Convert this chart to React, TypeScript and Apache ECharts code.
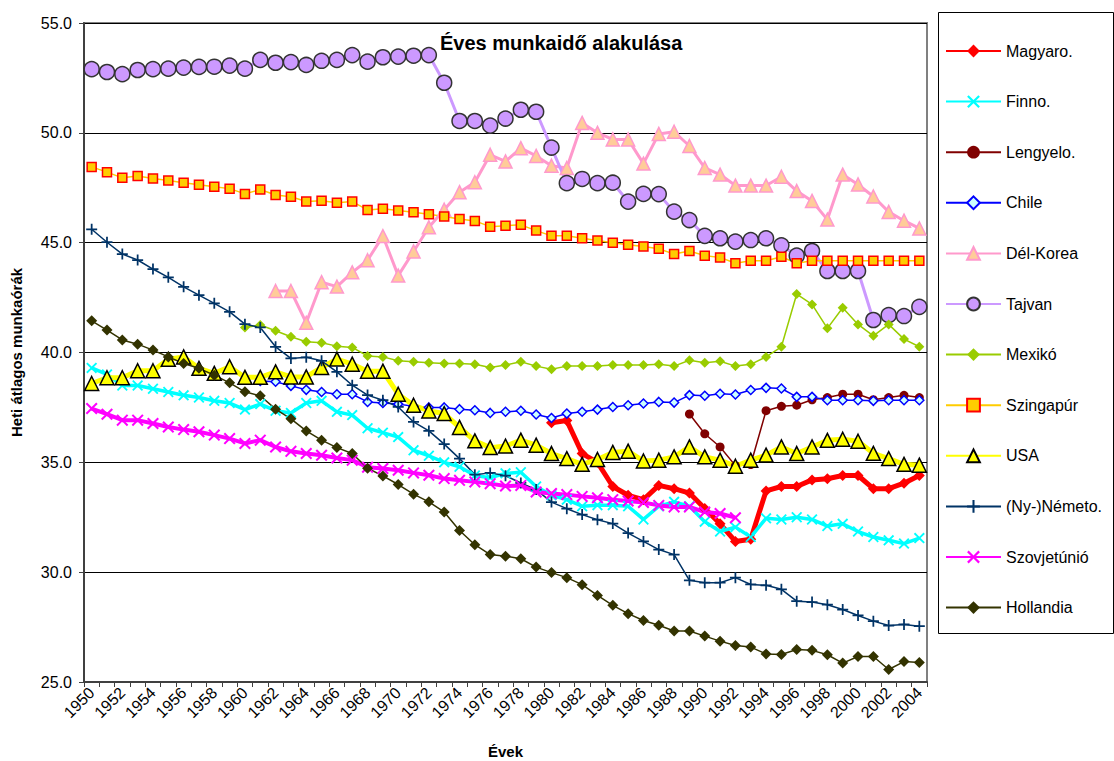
import React, { useEffect, useRef } from "react";
import * as echarts from "echarts";

const years = [
  "1950","1951","1952","1953","1954","1955","1956","1957","1958","1959",
  "1960","1961","1962","1963","1964","1965","1966","1967","1968","1969",
  "1970","1971","1972","1973","1974","1975","1976","1977","1978","1979",
  "1980","1981","1982","1983","1984","1985","1986","1987","1988","1989",
  "1990","1991","1992","1993","1994","1995","1996","1997","1998","1999",
  "2000","2001","2002","2003","2004",
];

const N = null;

const magyaro = [
  N,N,N,N,N,N,N,N,N,N,
  N,N,N,N,N,N,N,N,N,N,
  N,N,N,N,N,N,N,N,N,N,
  36.8,36.9,35.4,35.0,33.9,33.5,33.3,33.95,33.8,33.6,
  32.9,32.2,31.4,31.5,33.7,33.9,33.9,34.2,34.25,34.4,
  34.4,33.8,33.8,34.05,34.4,
];

const finno = [
  39.3,39.0,38.5,38.5,38.35,38.2,38.05,37.95,37.8,37.7,
  37.4,37.65,37.35,37.25,37.7,37.8,37.3,37.15,36.55,36.35,
  36.15,35.55,35.3,35.0,34.8,34.4,34.3,34.5,34.55,33.9,
  33.5,33.3,33.0,33.05,33.05,33.0,32.4,33.0,33.2,33.0,
  32.3,31.85,32.05,31.6,32.45,32.4,32.5,32.4,32.1,32.2,
  31.85,31.6,31.45,31.3,31.55,
];

const lengyelo = [
  N,N,N,N,N,N,N,N,N,N,
  N,N,N,N,N,N,N,N,N,N,
  N,N,N,N,N,N,N,N,N,N,
  N,N,N,N,N,N,N,N,N,37.2,
  36.3,35.7,34.85,34.9,37.35,37.55,37.6,37.85,37.95,38.1,
  38.1,37.85,37.95,38.05,37.95,
];

const chile = [
  N,N,N,N,N,N,N,N,N,N,
  N,38.7,38.67,38.48,38.3,38.2,38.1,38.1,37.75,37.7,
  37.65,37.55,37.5,37.5,37.42,37.37,37.25,37.3,37.35,37.18,
  37.02,37.22,37.3,37.4,37.52,37.6,37.68,37.75,37.72,38.06,
  38.03,38.12,38.09,38.29,38.39,38.36,37.98,37.98,37.83,37.83,
  37.83,37.8,37.83,37.83,37.83,
];

const delKorea = [
  N,N,N,N,N,N,N,N,N,N,
  N,N,42.8,42.8,41.35,43.2,43.0,43.65,44.2,45.3,
  43.5,44.6,45.7,46.5,47.3,47.75,49.0,48.7,49.3,48.95,
  48.5,48.4,50.45,50.0,49.7,49.7,48.6,49.95,50.05,49.4,
  48.4,48.1,47.6,47.6,47.6,48.0,47.35,46.9,46.05,48.1,
  47.65,47.1,46.4,46.0,45.65,
];

const tajvan = [
  52.9,52.77,52.67,52.86,52.9,52.92,52.97,53.0,53.01,53.06,
  52.92,53.32,53.19,53.22,53.09,53.28,53.32,53.54,53.24,53.44,
  53.47,53.51,53.54,52.28,50.54,50.54,50.33,50.65,51.05,50.96,
  49.33,47.71,47.9,47.71,47.73,46.87,47.22,47.21,46.41,46.03,
  45.31,45.2,45.05,45.12,45.2,44.88,44.41,44.62,43.71,43.71,
  43.71,41.48,41.7,41.66,42.08,
];

const mexiko = [
  N,N,N,N,N,N,N,N,N,N,
  41.14,41.25,40.99,40.72,40.49,40.44,40.29,40.23,39.84,39.8,
  39.62,39.58,39.53,39.5,39.5,39.47,39.32,39.43,39.58,39.38,
  39.24,39.38,39.38,39.38,39.43,39.43,39.43,39.46,39.38,39.65,
  39.53,39.6,39.38,39.46,39.8,40.26,42.66,42.19,41.1,42.04,
  41.28,40.76,41.28,40.61,40.26,
];

const szingapur = [
  48.45,48.21,47.95,48.03,47.92,47.83,47.73,47.64,47.55,47.46,
  47.22,47.42,47.17,47.09,46.87,46.91,46.82,46.87,46.49,46.54,
  46.46,46.39,46.29,46.19,46.08,45.99,45.73,45.77,45.81,45.55,
  45.31,45.31,45.2,45.1,45.0,44.91,44.83,44.72,44.48,44.62,
  44.41,44.33,44.06,44.18,44.18,44.36,44.06,44.18,44.18,44.18,
  44.18,44.18,44.18,44.18,44.18,
];

const usa = [
  38.59,38.85,38.85,39.17,39.17,39.69,39.8,39.28,39.05,39.35,
  38.87,38.87,39.12,38.89,38.89,39.32,39.7,39.47,39.15,39.15,
  38.1,37.6,37.34,37.22,36.59,35.98,35.67,35.74,36.01,35.78,
  35.4,35.17,34.91,35.13,35.45,35.51,35.06,35.1,35.25,35.7,
  35.25,35.1,34.82,35.1,35.33,35.7,35.4,35.7,36.0,36.05,
  35.96,35.41,35.17,34.91,34.87,
];

const nemeto = [
  45.61,45.02,44.48,44.21,43.8,43.42,42.99,42.61,42.24,41.85,
  41.29,41.14,40.26,39.73,39.78,39.62,39.12,38.51,38.06,37.83,
  37.52,36.84,36.43,35.83,35.17,34.44,34.52,34.39,34.06,33.76,
  33.19,32.89,32.62,32.39,32.21,31.78,31.4,31.03,30.8,29.63,
  29.52,29.52,29.75,29.44,29.4,29.22,28.68,28.64,28.52,28.3,
  28.03,27.77,27.57,27.62,27.54,
];

const szovjet = [
  37.45,37.19,36.92,36.92,36.77,36.61,36.49,36.39,36.24,36.08,
  35.86,36.01,35.7,35.5,35.4,35.32,35.2,35.1,34.78,34.72,
  34.64,34.52,34.41,34.26,34.18,34.11,34.03,33.92,33.95,33.65,
  33.58,33.53,33.45,33.39,33.3,33.24,33.17,33.04,32.97,32.97,
  32.74,32.67,32.48,N,N,N,N,N,N,N,
  N,N,N,N,N,
];

const hollandia = [
  41.44,41.02,40.57,40.38,40.11,39.8,39.5,39.28,38.97,38.62,
  38.21,38.03,37.42,36.98,36.43,36.01,35.67,35.4,34.73,34.38,
  33.99,33.55,33.2,32.74,31.9,31.25,30.8,30.73,30.61,30.23,
  29.98,29.75,29.43,28.94,28.49,28.11,27.8,27.58,27.32,27.32,
  27.09,26.86,26.66,26.59,26.28,26.25,26.48,26.44,26.24,25.86,
  26.16,26.16,25.57,25.93,25.89,
];

const FONT = 'Arial, "Liberation Sans", sans-serif';
const XSYM = "path://M0,1.2L1.2,0L5,3.8L8.8,0L10,1.2L6.2,5L10,8.8L8.8,10L5,6.2L1.2,10L0,8.8L3.8,5Z";
const PLUS = "path://M4.2,0H5.8V4.2H10V5.8H5.8V10H4.2V5.8H0V4.2H4.2Z";

function mk(
  name: string,
  data: (number | null)[],
  lineColor: string,
  lineWidth: number,
  symbol: string,
  size: number,
  fill: string,
  border: string,
  borderWidth: number
) {
  return {
    name,
    type: "line",
    data,
    symbol,
    symbolSize: size,
    showAllSymbol: true,
    lineStyle: { color: lineColor, width: lineWidth },
    itemStyle: { color: fill, borderColor: border, borderWidth },
    emphasis: { disabled: true },
  };
}

export default function App() {
  const ref = useRef<HTMLDivElement>(null);
  useEffect(() => {
    document.body.style.margin = "0";
    const chart = echarts.init(ref.current!, null, { renderer: "svg" });
    const series = [
      mk("Magyaro.", magyaro, "#FF0000", 5, "diamond", 11, "#FF0000", "#FF0000", 0),
      mk("Finno.", finno, "#00FFFF", 3.5, XSYM, 11, "#00FFFF", "#00FFFF", 0),
      mk("Lengyelo.", lengyelo, "#800000", 1.5, "circle", 9, "#800000", "#800000", 0),
      mk("Chile", chile, "#0000FF", 1.5, "diamond", 9, "#CCFFFF", "#0000FF", 1.5),
      mk("Dél-Korea", delKorea, "#FF99CC", 3, "triangle", 13, "#FFCC99", "#FF99CC", 1.5),
      mk("Tajvan", tajvan, "#CC99FF", 3, "circle", 15, "#CC99FF", "#333333", 1.5),
      mk("Mexikó", mexiko, "#99CC00", 1.5, "diamond", 10, "#99CC00", "#99CC00", 0),
      mk("Szingapúr", szingapur, "#FFCC00", 1.5, "rect", 9, "#FFCC00", "#FF0000", 1.5),
      mk("USA", usa, "#FFFF00", 5, "triangle", 14, "#FFFF00", "#000000", 1.5),
      mk("(Ny-)Németo.", nemeto, "#003366", 1.5, PLUS, 11, "#003366", "#003366", 0),
      mk("Szovjetúnió", szovjet, "#FF00FF", 4, XSYM, 12, "#FF00FF", "#FF00FF", 0),
      mk("Hollandia", hollandia, "#333300", 1.5, "diamond", 11, "#333300", "#333300", 0),
    ];
    chart.setOption({
      animation: false,
      backgroundColor: "#ffffff",
      textStyle: { fontFamily: FONT },
      title: {
        text: "Éves munkaidő alakulása",
        left: 440,
        top: 33,
        padding: 0,
        textStyle: { fontSize: 20, fontWeight: "bold", color: "#000", fontFamily: FONT },
      },
      grid: {
        left: 84,
        right: 187,
        top: 23,
        bottom: 79,
        containLabel: false,
        outerBoundsMode: "none",
        show: true,
        borderColor: "#808080",
        borderWidth: 2,
        backgroundColor: "transparent",
      },
      legend: {
        orient: "vertical",
        left: 945,
        top: 43,
        padding: 0,
        itemGap: 34.6,
        itemWidth: 55,
        itemHeight: 16,
        textStyle: { fontSize: 16, color: "#000", fontFamily: FONT },
        data: series.map((s) => s.name),
      },
      graphic: [
        {
          type: "rect",
          left: 938,
          top: 12,
          shape: { width: 175, height: 621 },
          style: { fill: "transparent", stroke: "#000", lineWidth: 1 },
          z: 0,
        },
      ],
      xAxis: {
        type: "category",
        data: years,
        boundaryGap: true,
        name: "Évek",
        nameLocation: "middle",
        nameGap: 62,
        nameTextStyle: { fontSize: 15, fontWeight: "bold", color: "#000", fontFamily: FONT },
        axisLine: { lineStyle: { color: "#404040", width: 2 } },
        axisTick: { show: true, interval: 0, length: 5, lineStyle: { color: "#404040" } },
        axisLabel: { interval: 1, rotate: 45, fontSize: 16, color: "#000", margin: 8, fontFamily: FONT },
        splitLine: { show: false },
      },
      yAxis: {
        type: "value",
        min: 25,
        max: 55,
        interval: 5,
        name: "Heti átlagos munkaórák",
        nameLocation: "middle",
        nameGap: 60,
        nameRotate: 90,
        nameTextStyle: { fontSize: 15, fontWeight: "bold", color: "#000", fontFamily: FONT },
        axisLine: { show: true, lineStyle: { color: "#404040", width: 2 } },
        axisTick: { show: true, length: 5, lineStyle: { color: "#404040" } },
        axisLabel: {
          fontSize: 16,
          color: "#000",
          margin: 12,
          fontFamily: FONT,
          formatter: (v: number) => v.toFixed(1),
        },
        splitLine: { show: true, lineStyle: { color: "#000", width: 1 } },
      },
      series,
    });
    return () => chart.dispose();
  }, []);
  return <div ref={ref} style={{ width: 1114, height: 761 }} />;
}
